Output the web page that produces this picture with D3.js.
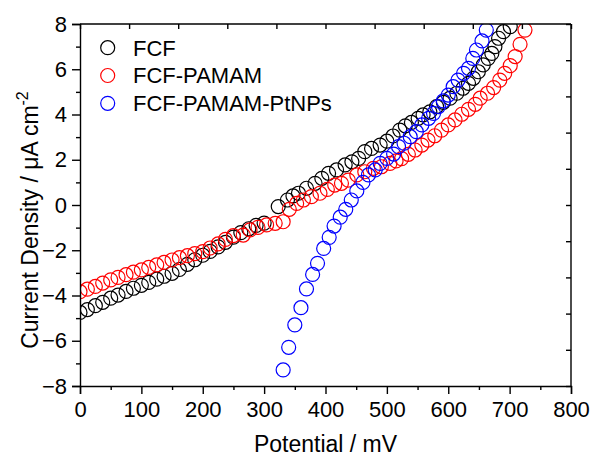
<!DOCTYPE html>
<html>
<head>
<meta charset="utf-8">
<script src="https://cdn.jsdelivr.net/npm/d3@7"></script>
<style>
  html, body { margin: 0; padding: 0; background: #fff; }
  svg { display: block; font-family: "Liberation Sans", Arial, sans-serif; }
</style>
</head>
<body>
<svg id="chart" width="593" height="457"></svg>
<script>
// Polarization curves: potential (mV) vs current density (µA cm^-2)
const fcfPotential = [0,12,25,37,50,62,75,87,100,112,125,137,150,162,175,187,200,212,225,237,250,262,275,287,300,
  323,338,347,356,369,383,394,405,418,432,443,454,464,475,489,500,510,521,530,540,551,559,570,581,592,603,614,624,633,641,649,657,665,671,676,682,690,701];
const fcfCurrent = [-4.75,-4.62,-4.45,-4.3,-4.12,-3.98,-3.82,-3.68,-3.55,-3.42,-3.28,-3.15,-3.02,-2.85,-2.62,-2.42,-2.22,-2.05,-1.85,-1.65,-1.42,-1.22,-1.05,-0.9,-0.8,
  -0.07,0.22,0.4,0.52,0.74,0.96,1.18,1.4,1.55,1.77,1.91,2.06,2.36,2.5,2.65,2.82,3.05,3.31,3.5,3.65,3.83,3.98,4.12,4.35,4.54,4.72,4.94,5.16,5.38,5.6,5.89,6.19,6.48,6.7,7.0,7.37,7.66,7.88];

const pamamPotential = [0,12,25,37,50,62,75,87,100,112,125,137,150,162,175,187,200,212,225,237,250,266,277,290,304,318,331,
  341,353,364,377,391,403,415,426,437,451,464,478,491,505,515,524,535,546,557,567,578,589,600,611,622,633,644,652,664,674,684,692,701,709,717,725];
const pamamCurrent = [-3.83,-3.72,-3.6,-3.45,-3.31,-3.2,-3.08,-2.97,-2.87,-2.76,-2.65,-2.54,-2.43,-2.33,-2.24,-2.15,-2.06,-1.9,-1.72,-1.52,-1.35,-1.33,-1.1,-0.99,-0.88,-0.81,-0.74,
  -0.19,0.07,0.22,0.37,0.52,0.69,0.88,0.96,1.1,1.33,1.47,1.62,1.69,1.84,1.95,2.05,2.24,2.43,2.65,2.87,3.06,3.31,3.54,3.76,4.01,4.23,4.45,4.72,4.94,5.19,5.52,5.82,6.16,6.56,7.1,7.73];

const ptPotential = [331,340,350,360,369,379,387,397,406,414,424,433,442,451,461,470,481,489,500,511,519,528,538,548,557,568,576,584,592,600,608,616,625,633,640,646,655,662];
const ptCurrent = [-7.29,-6.29,-5.3,-4.54,-3.71,-3.07,-2.58,-1.92,-1.43,-0.93,-0.54,-0.19,0.22,0.62,1.0,1.33,1.55,1.84,2.06,2.25,2.58,2.73,3.02,3.24,3.54,3.83,4.05,4.35,4.6,4.86,5.23,5.52,5.82,6.04,6.48,6.85,7.25,7.73];

const seriesNames = ["FCF", "FCF-PAMAM", "FCF-PAMAM-PtNPs"];
const seriesColors = ["#000000", "#ff0000", "#0000ff"];

const xTickValues = [0,100,200,300,400,500,600,700,800];
const xMinorTicks = [50,150,250,350,450,550,650,750];
const yTickValues = [-8,-6,-4,-2,0,2,4,6,8];
const yMinorTicks = [-7,-5,-3,-1,1,3,5,7];

const series = [
  { name: seriesNames[0], color: seriesColors[0], x: fcfPotential, y: fcfCurrent },
  { name: seriesNames[1], color: seriesColors[1], x: pamamPotential, y: pamamCurrent },
  { name: seriesNames[2], color: seriesColors[2], x: ptPotential, y: ptCurrent }
];

const svg = d3.select("#chart");
const margin = { left: 80, right: 22, top: 24, bottom: 71 };
const W = 593, H = 457;
const x = d3.scaleLinear().domain([0, 800]).range([margin.left, W - margin.right]);
const y = d3.scaleLinear().domain([-8, 8]).range([H - margin.bottom, margin.top]);

svg.append("clipPath").attr("id", "plotClip")
  .append("rect")
  .attr("x", x(0)).attr("y", y(8))
  .attr("width", x(800) - x(0)).attr("height", y(-8) - y(8));

// markers
const plot = svg.append("g").attr("clip-path", "url(#plotClip)");
series.forEach(s => {
  plot.append("g").selectAll("circle")
    .data(s.x.map((v, i) => [v, s.y[i]]))
    .join("circle")
    .attr("cx", d => x(d[0]))
    .attr("cy", d => y(d[1]))
    .attr("r", 7)
    .attr("fill", "none")
    .attr("stroke", s.color)
    .attr("stroke-width", 1.2);
});

const fontSize = 22;

// bottom axis
svg.append("g").attr("transform", `translate(0,${y(-8)})`)
  .call(d3.axisBottom(x).tickValues(xTickValues).tickSize(8).tickPadding(7).tickFormat(d3.format("d")));
svg.append("g").attr("transform", `translate(0,${y(-8)})`)
  .call(d3.axisBottom(x).tickValues(xMinorTicks).tickSize(4).tickFormat(""))
  .select(".domain").remove();

// left axis
svg.append("g").attr("transform", `translate(${x(0)},0)`)
  .call(d3.axisLeft(y).tickValues(yTickValues).tickSize(8).tickPadding(5).tickFormat(d3.format("d")));
svg.append("g").attr("transform", `translate(${x(0)},0)`)
  .call(d3.axisLeft(y).tickValues(yMinorTicks).tickSize(4).tickFormat(""))
  .select(".domain").remove();

// top and right frame with evenly spaced inward ticks
const xTop = d3.scaleLinear().domain([0, 10]).range([x(0), x(800)]);
const yRight = d3.scaleLinear().domain([0, 10]).range([y(-8), y(8)]);
svg.append("g").attr("transform", `translate(0,${y(8)})`)
  .call(d3.axisBottom(xTop).ticks(10).tickSize(5).tickFormat(""))
  .call(g => g.select(".domain").attr("d", `M${x(0)},0H${x(800)}`));
svg.append("g").attr("transform", `translate(${x(800)},0)`)
  .call(d3.axisLeft(yRight).ticks(10).tickSize(5).tickFormat(""))
  .call(g => g.select(".domain").attr("d", `M0,${y(-8)}V${y(8)}`));

svg.selectAll(".domain").attr("stroke", "#000").attr("stroke-width", 1.4);
svg.selectAll(".tick line").attr("stroke", "#000").attr("stroke-width", 1.4);
svg.selectAll(".tick text")
  .attr("font-size", fontSize)
  .attr("font-family", "Liberation Sans, Arial, sans-serif")
  .attr("fill", "#000");

// axis titles
svg.append("text")
  .attr("x", (x(0) + x(800)) / 2)
  .attr("y", 452)
  .attr("text-anchor", "middle")
  .attr("font-size", 23)
  .text("Potential / mV");

const yTitle = svg.append("text")
  .attr("transform", "translate(38,220) rotate(-90)")
  .attr("text-anchor", "middle")
  .attr("font-size", 23);
yTitle.append("tspan").text("Current Density / \u03BCA cm");
yTitle.append("tspan").attr("dy", -10).attr("font-size", 16).text("-2");

// legend
const legend = svg.append("g");
series.forEach((s, i) => {
  const cy = 47.7 + i * 27.8;
  legend.append("circle")
    .attr("cx", 107.7).attr("cy", cy).attr("r", 7)
    .attr("fill", "none").attr("stroke", s.color).attr("stroke-width", 1.2);
  legend.append("text")
    .attr("x", 133).attr("y", cy + 7.8)
    .attr("font-size", fontSize)
    .text(s.name);
});
</script>
</body>
</html>
